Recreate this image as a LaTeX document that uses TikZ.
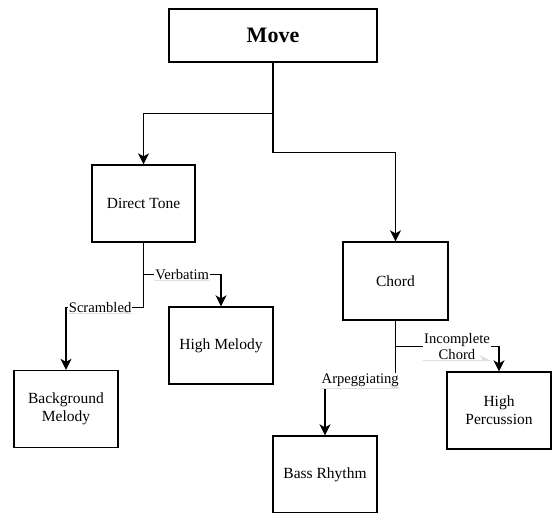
\documentclass[tikz,border=0pt]{standalone}
\usepackage{fontspec}
\setmainfont{Liberation Serif}
\usetikzlibrary{arrows.meta}
\begin{document}
\begin{tikzpicture}[x=1pt,y=-1pt,
  box/.style={draw, line width=1.3pt, minimum width=104pt, minimum height=77pt, inner sep=2pt, align=center, font=\fontsize{15.5}{18}\selectfont},
  conn/.style={line width=1.4pt, -{Stealth[length=11pt,width=11pt,inset=3pt]}},
  lab/.style={fill=white, inner sep=1pt, align=center, font=\fontsize{14.6}{16}\selectfont,
    path picture={\draw[gray!25, line width=1pt] (path picture bounding box.south west) -- (path picture bounding box.south east);}}]
\useasboundingbox (0,0) rectangle (552,512);
\node[box, minimum width=208pt, minimum height=53pt, font=\bfseries\fontsize{22}{24}\selectfont] (move) at (273,35.5) {Move};
\node[box, minimum width=103pt] (dt) at (143.5,203.5) {Direct Tone};
\node[box] (hm) at (221,345.5) {High Melody};
\node[box] (bm) at (66,409) {Background\\Melody};
\node[box, minimum width=105pt, minimum height=78pt] (chord) at (395.5,281) {Chord};
\node[box] (hp) at (499,410.5) {High\\Percussion};
\node[box] (br) at (325,474.5) {Bass Rhythm};
\draw[conn] (move.south) -- ++(0,51) -| (dt.north);
\draw[conn] (move.south) -- ++(0,90) -| (chord.north);
\draw[conn] (dt.south) -- ++(0,32) -| node[lab, pos=0.25] {Verbatim} (hm.north);
\draw[conn] (dt.south) -- ++(0,65) -| node[lab, pos=0.28] {Scrambled} (bm.north);
\draw[conn] (chord.south) -- ++(0,26) -| node[lab, pos=0.297] {Incomplete\\Chord} (hp.north);
\draw[conn] (chord.south) -- ++(0,60) -| node[lab, pos=0.25] {Arpeggiating} (br.north);
\end{tikzpicture}
\end{document}
